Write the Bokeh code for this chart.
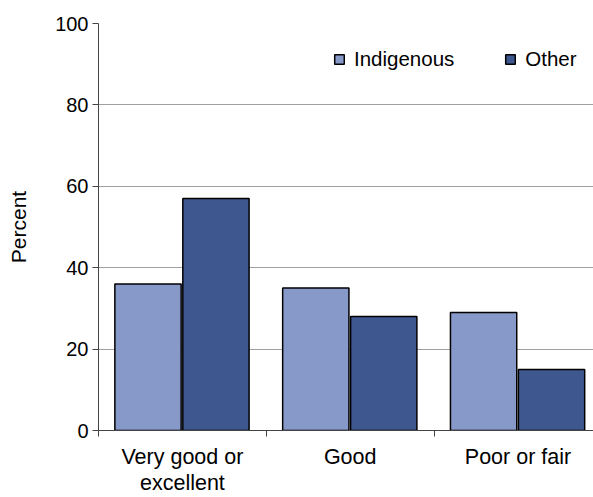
from bokeh.plotting import figure
from bokeh.models import Range1d, FixedTicker, Legend, LegendItem, LinearAxis
from bokeh.embed import file_html
from bokeh.resources import INLINE

categories = ["Very good or\nexcellent", "Good", "Poor or fair"]
series_names = ["Indigenous", "Other"]
indigenous = [36, 35, 29]
other = [57, 28, 15]
y_ticks = [0, 20, 40, 60, 80, 100]

FONT = "Liberation Sans"
colors = ["#8799C8", "#3F578F"]

p = figure(width=593, height=497, output_backend="svg", toolbar_location=None,
           x_range=Range1d(0, 2.95), y_range=Range1d(0, 100),
           min_border_left=98, min_border_top=23, min_border_bottom=67, min_border_right=0,
           x_axis_type=None)
p.outline_line_color = None

xs = list(range(len(categories)))
r1 = p.vbar(x=[i + 0.5 - 0.205 for i in xs], top=indigenous, width=0.395, bottom=0,
            fill_color=colors[0], line_color="black", line_width=1.5)
r2 = p.vbar(x=[i + 0.5 + 0.2 for i in xs], top=other, width=0.395, bottom=0,
            fill_color=colors[1], line_color="black", line_width=1.5)

xaxis = LinearAxis(ticker=FixedTicker(ticks=[i + 0.5 for i in xs], minor_ticks=[0, 1, 2, 3]))
xaxis.major_label_overrides = {i + 0.5: c for i, c in zip(xs, categories)}
xaxis.major_tick_out = 0
xaxis.major_tick_in = 0
xaxis.minor_tick_out = 6
xaxis.minor_tick_in = 0
xaxis.minor_tick_line_color = "#444444"
xaxis.axis_line_color = "#444444"
xaxis.major_label_text_font = FONT
xaxis.major_label_text_font_size = "21.5px"
xaxis.major_label_text_line_height = 1.1
xaxis.major_label_text_color = "black"
xaxis.major_label_standoff = 8
p.add_layout(xaxis, "below")

p.yaxis.ticker = FixedTicker(ticks=y_ticks)
p.yaxis.minor_tick_line_color = None
p.yaxis.major_tick_out = 6
p.yaxis.major_tick_in = 0
p.yaxis.major_tick_line_color = "#444444"
p.yaxis.axis_line_color = "#444444"
p.yaxis.major_label_text_font = FONT
p.yaxis.major_label_text_font_size = "20px"
p.yaxis.major_label_text_color = "black"
p.yaxis.major_label_standoff = 4
p.yaxis.axis_label = "Percent"
p.yaxis.axis_label_text_font = FONT
p.yaxis.axis_label_text_font_size = "21px"
p.yaxis.axis_label_text_font_style = "normal"
p.yaxis.axis_label_text_color = "black"
p.yaxis.axis_label_standoff = 22

p.xgrid.visible = False
p.ygrid.ticker = FixedTicker(ticks=y_ticks)
p.ygrid.grid_line_color = "#a0a0a0"
p.ygrid.grid_line_width = 1

legend = Legend(items=[LegendItem(label=series_names[0], renderers=[r1]),
                       LegendItem(label=series_names[1], renderers=[r2])],
                location=(235, 359), orientation="horizontal",
                padding=0, margin=0, spacing=50, border_line_alpha=0,
                background_fill_alpha=0, glyph_width=12, glyph_height=12,
                label_height=20, label_standoff=9,
                label_text_font=FONT, label_text_font_size="20.5px", label_text_color="black")
p.add_layout(legend, "center")

open("out.html", "w").write(file_html(p, INLINE))
